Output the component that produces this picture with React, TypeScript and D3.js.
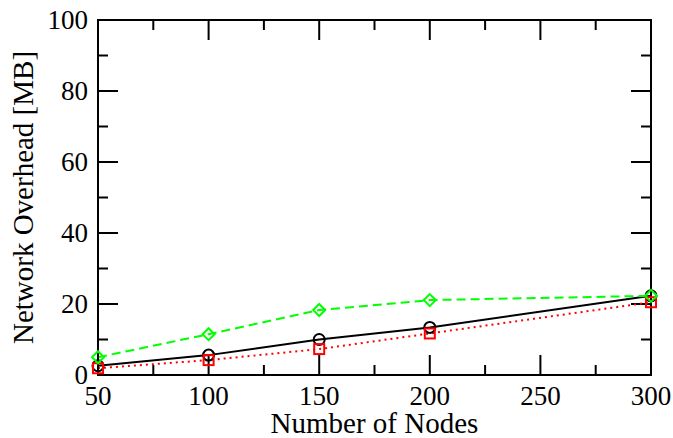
import React, { useEffect, useRef } from "react";
import * as d3 from "d3";

// values
const nodes = [50, 100, 150, 200, 300];
const blackSeries = [2.6, 5.6, 10.0, 13.4, 22.3];
const redSeries = [1.9, 4.2, 7.3, 11.7, 20.5];
const greenSeries = [5.0, 11.5, 18.3, 21.1, 22.3];
const xTicks = [50, 100, 150, 200, 250, 300];
const xMinorTicks = [75, 125, 175, 225, 275];
const yTicks = [0, 20, 40, 60, 80, 100];
const yMinorTicks = [10, 30, 50, 70, 90];

const App = () => {
    const svgRef = useRef<SVGSVGElement>(null);

    useEffect(() => {
        const svg = d3.select(svgRef.current);
        svg.selectAll("*").remove();

        const width = 673;
        const height = 438;
        const margin = { top: 20, right: 22, bottom: 63, left: 98 };
        const font = "'Liberation Serif', 'Times New Roman', serif";

        svg.attr("width", width).attr("height", height);

        const xScale = d3.scaleLinear().domain([50, 300]).range([margin.left, width - margin.right]);
        const yScale = d3.scaleLinear().domain([0, 100]).range([height - margin.bottom, margin.top]);
        const [x0, x1] = xScale.range();
        const [y0, y1] = yScale.range();

        // inward ticks on all four sides
        const ticks = svg.append("g").attr("stroke", "black").attr("stroke-width", 2);
        const addX = (vals: number[], len: number) => {
            vals.forEach((v) => {
                ticks.append("line").attr("x1", xScale(v)).attr("x2", xScale(v)).attr("y1", y0).attr("y2", y0 - len);
                ticks.append("line").attr("x1", xScale(v)).attr("x2", xScale(v)).attr("y1", y1).attr("y2", y1 + len);
            });
        };
        const addY = (vals: number[], len: number) => {
            vals.forEach((v) => {
                ticks.append("line").attr("y1", yScale(v)).attr("y2", yScale(v)).attr("x1", x0).attr("x2", x0 + len);
                ticks.append("line").attr("y1", yScale(v)).attr("y2", yScale(v)).attr("x1", x1).attr("x2", x1 - len);
            });
        };
        addX(xTicks, 20);
        addX(xMinorTicks, 10);
        addY(yTicks, 20);
        addY(yMinorTicks, 10);

        // tick labels
        svg.append("g")
            .selectAll("text")
            .data(xTicks)
            .join("text")
            .attr("x", (d) => xScale(d))
            .attr("y", y0 + 30)
            .attr("text-anchor", "middle")
            .style("font-family", font)
            .style("font-size", "27px")
            .text((d) => d);

        svg.append("g")
            .selectAll("text")
            .data(yTicks)
            .join("text")
            .attr("x", x0 - 10)
            .attr("y", (d) => yScale(d) + 9)
            .attr("text-anchor", "end")
            .style("font-family", font)
            .style("font-size", "27px")
            .text((d) => d);

        // axis titles
        svg.append("text")
            .attr("x", (x0 + x1) / 2)
            .attr("y", 433)
            .attr("text-anchor", "middle")
            .style("font-family", font)
            .style("font-size", "29px")
            .text("Number of Nodes");

        svg.append("text")
            .attr("transform", `translate(33, ${(y0 + y1) / 2}) rotate(-90)`)
            .attr("text-anchor", "middle")
            .style("font-family", font)
            .style("font-size", "29px")
            .text("Network Overhead [MB]");

        // series
        const series = [
            { values: blackSeries, color: "black", dash: null, marker: "circle" },
            { values: redSeries, color: "#ff0000", dash: "2,4", marker: "square" },
            { values: greenSeries, color: "#00ff00", dash: "9,5", marker: "diamond" },
        ];

        const line = d3
            .line<number>()
            .x((d, i) => xScale(nodes[i]))
            .y((d) => yScale(d));

        series.forEach((s) => {
            svg.append("path")
                .datum(s.values)
                .attr("d", line)
                .attr("fill", "none")
                .attr("stroke", s.color)
                .attr("stroke-width", 2)
                .attr("stroke-dasharray", s.dash);
        });

        // frame
        svg.append("rect")
            .attr("x", x0)
            .attr("y", y1)
            .attr("width", x1 - x0)
            .attr("height", y0 - y1)
            .attr("fill", "none")
            .attr("stroke", "black")
            .attr("stroke-width", 2);

        // markers on top
        series.forEach((s) => {
            const g = svg.append("g").attr("fill", "none").attr("stroke", s.color).attr("stroke-width", 2);
            s.values.forEach((v, i) => {
                const cx = xScale(nodes[i]);
                const cy = yScale(v);
                if (s.marker === "circle") {
                    g.append("circle").attr("cx", cx).attr("cy", cy).attr("r", 5.5);
                } else if (s.marker === "square") {
                    g.append("rect").attr("x", cx - 5).attr("y", cy - 5).attr("width", 10).attr("height", 10);
                } else {
                    g.append("path").attr("d", `M${cx},${cy - 6}L${cx + 6},${cy}L${cx},${cy + 6}L${cx - 6},${cy}Z`);
                }
            });
        });
    }, []);

    return <svg ref={svgRef} style={{ position: "absolute", left: 0, top: 0 }}></svg>;
};

export default App;
